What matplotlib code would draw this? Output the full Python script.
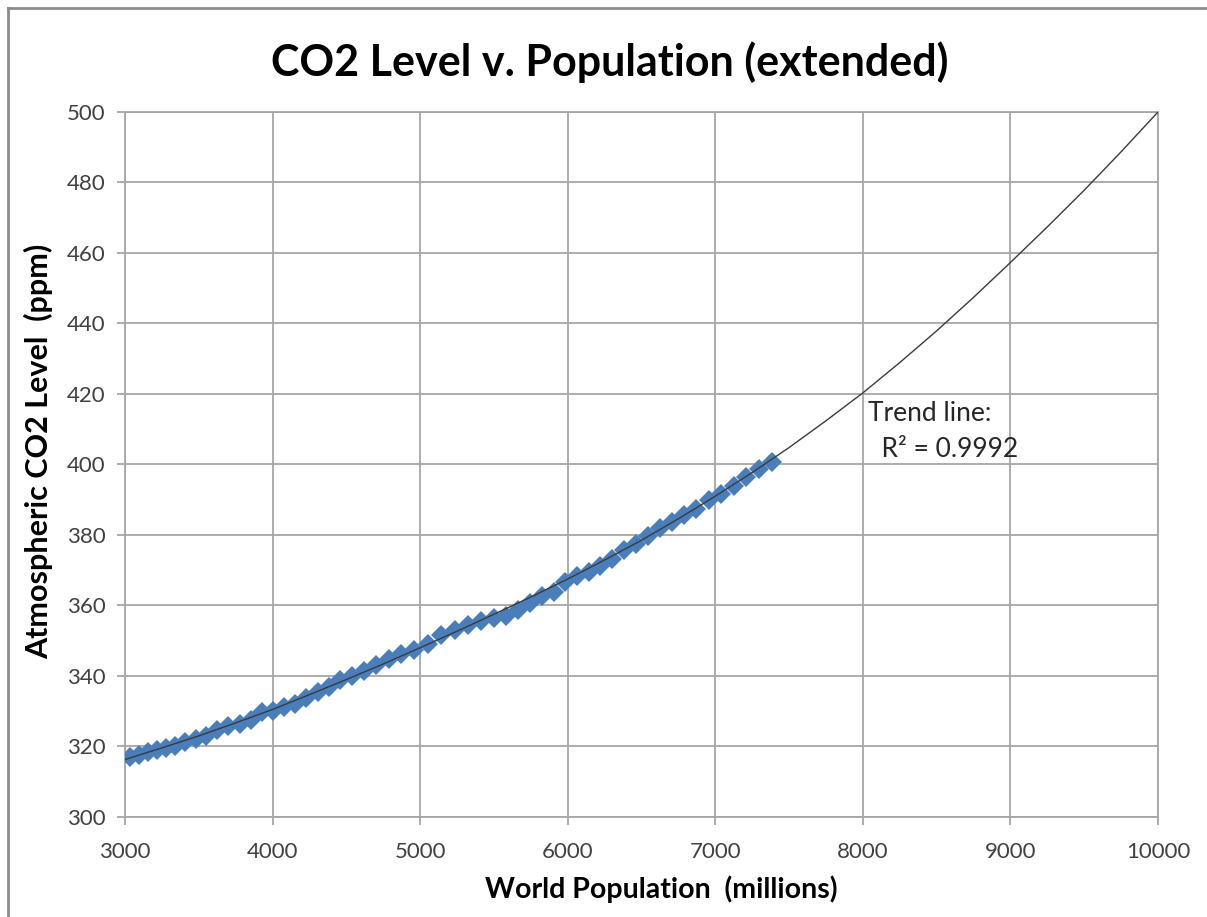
import matplotlib
matplotlib.use("Agg")
import matplotlib.pyplot as plt
from matplotlib.lines import Line2D

plt.rcParams['font.family'] = ['Lato', 'DejaVu Sans']

# world population (millions), one point per year
population = [3035, 3092, 3153, 3217, 3278, 3340, 3409, 3478, 3550, 3624,
              3700, 3776, 3852, 3928, 4003, 4079, 4154, 4229, 4305, 4381,
              4458, 4539, 4621, 4704, 4788, 4873, 4961, 5051, 5141, 5234,
              5327, 5413, 5497, 5580, 5662, 5744, 5824, 5904, 5984, 6064,
              6143, 6222, 6301, 6380, 6461, 6542, 6623, 6705, 6787, 6871,
              6957, 7041, 7126, 7211, 7296, 7383]
# atmospheric CO2 (ppm), same years
co2 = [316.9, 317.6, 318.5, 319.0, 319.6, 320.0, 321.4, 322.2, 323.0, 324.6,
       325.7, 326.3, 327.5, 329.7, 330.2, 331.1, 332.0, 333.8, 335.4, 336.8,
       338.8, 340.1, 341.5, 343.1, 344.7, 346.1, 347.4, 349.2, 351.6, 353.1,
       354.4, 355.6, 356.5, 357.1, 358.8, 360.8, 362.6, 363.7, 366.7, 368.4,
       369.6, 371.1, 373.3, 375.8, 377.5, 379.8, 381.9, 383.8, 385.6, 387.4,
       389.9, 391.7, 393.9, 396.5, 398.7, 400.8]

# trend line
trend_x = [3000, 3250, 3500, 3750, 4000, 4250, 4500, 4750, 5000, 5250,
           5500, 5750, 6000, 6250, 6500, 6750, 7000, 7250, 7500, 7750,
           8000, 8250, 8500, 8750, 9000, 9250, 9500, 9750, 10000]
trend_y = [316.3, 319.6, 323.0, 326.7, 330.5, 334.7, 339.0, 343.4, 348.0, 352.7,
           357.5, 362.4, 367.5, 372.9, 378.5, 384.6, 391.0, 397.7, 404.8, 412.4,
           420.3, 428.9, 437.9, 447.4, 457.3, 467.4, 477.8, 488.7, 500.0]

xticks = [3000, 4000, 5000, 6000, 7000, 8000, 9000, 10000]
yticks = [300, 320, 340, 360, 380, 400, 420, 440, 460, 480, 500]

grid_col = '#a6a6a6'

fig = plt.figure(figsize=(12.07, 9.17), dpi=100)
ax = fig.add_axes([0.1036, 0.1091, 0.8558, 0.7688])

ax.plot(population, co2, linestyle='none', marker='D', markersize=10.5,
        color='#4a7ebb', markeredgewidth=0, zorder=3)
ax.plot(trend_x, trend_y, color='#3a3a3a', linewidth=1.0, zorder=4)

ax.set_xlim(3000, 10000)
ax.set_ylim(300, 500)
ax.set_xticks(xticks)
ax.set_yticks(yticks)
ax.grid(True, color=grid_col, linewidth=1.3)
ax.set_axisbelow(True)
for s in ax.spines.values():
    s.set_color(grid_col)
    s.set_linewidth(1.3)
ax.tick_params(colors=grid_col, labelcolor='#404040', labelsize=16,
               length=6, width=1.3, direction='out')
ax.tick_params(axis='x', pad=12)
ax.tick_params(axis='y', pad=8)

ax.set_xlabel('World Population  (millions)', fontsize=20.5, fontweight='bold',
              labelpad=10)
ax.set_ylabel('Atmospheric CO2 Level  (ppm)', fontsize=22, fontweight='bold',
              labelpad=10)
ax.xaxis.label.set_x(0.519)
ax.yaxis.label.set_y(0.518)
fig.suptitle('CO2 Level v. Population (extended)', fontsize=31, fontweight='bold',
             x=0.505, y=0.955)

ax.text(8035, 409.3, 'Trend line:\n  R² = 0.9992', fontsize=19, color='#262626',
        va='center', ha='left', linespacing=1.55)

# outer chart frame (top and left edges visible)
fig.add_artist(Line2D([0.007, 1.0], [0.991, 0.991], transform=fig.transFigure,
                      color='#8c8c8c', linewidth=2))
fig.add_artist(Line2D([0.007, 0.007], [0.0, 0.991], transform=fig.transFigure,
                      color='#8c8c8c', linewidth=2))

fig.savefig('out.png', dpi=100)
